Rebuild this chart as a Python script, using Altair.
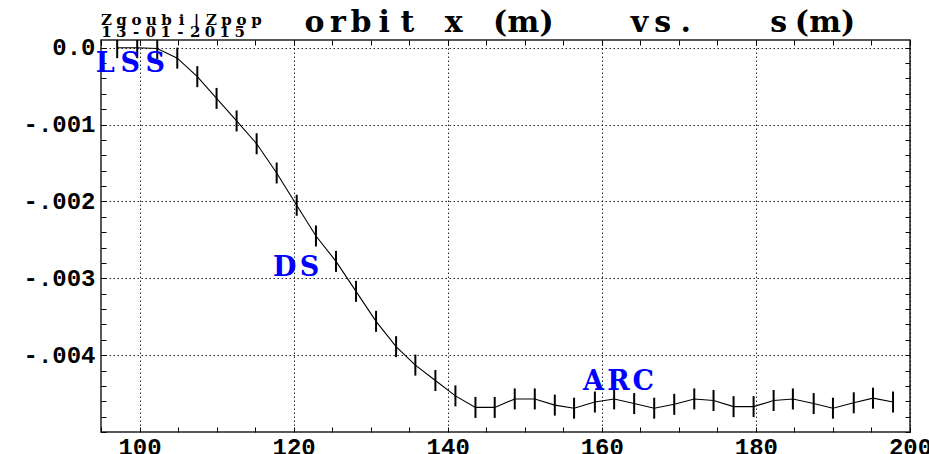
import altair as alt
import pandas as pd

# Closed-orbit horizontal position x (m) against path length s (m)
s_m = [97.1, 99.7, 102.3, 104.9, 107.5, 110.0, 112.6, 115.2, 117.8, 120.4,
       122.9, 125.5, 128.1, 130.7, 133.3, 135.8, 138.4, 141.0, 143.6, 146.1,
       148.7, 151.3, 153.9, 156.4, 159.1, 161.6, 164.2, 166.8, 169.4, 172.0,
       174.5, 177.1, 179.7, 182.3, 184.8, 187.5, 190.0, 192.7, 195.2, 197.8]
x_m = [0.0, 0.0, -0.00001, -0.000136, -0.000377, -0.00066, -0.000953, -0.00125, -0.00163, -0.00205,
       -0.00245, -0.00278, -0.00317, -0.00356, -0.00389, -0.00413, -0.00433, -0.00453, -0.00468, -0.00468,
       -0.00457, -0.00457, -0.00465, -0.00469, -0.00461, -0.00457, -0.00463, -0.00469, -0.00464, -0.00457,
       -0.00459, -0.00467, -0.00467, -0.00459, -0.00457, -0.00463, -0.00469, -0.00462, -0.00456, -0.00461]

# Lattice region labels
region_names = ["LSS", "DS", "ARC"]
region_s = [98.8, 120.45, 162.15]
region_x = [-0.00021, -0.00286, -0.00435]

# Axis ticks
x_major = [100, 120, 140, 160, 180, 200]
y_major = [0.0, -0.001, -0.002, -0.003, -0.004]
x_minor = [95, 100, 105, 110, 115, 120, 125, 130, 135, 140, 145, 150,
           155, 160, 165, 170, 175, 180, 185, 190, 195, 200]
y_minor = [round(-0.005 + 0.0002 * i, 4) for i in range(26)]

S_DOMAIN = [95, 200]
X_DOMAIN = [-0.005, 0.0001]

W, H = 809, 392
PAD = {"left": 101, "top": 40, "right": 19, "bottom": 22}
MONO = "Liberation Mono"
SERIF = "DejaVu Serif"
BLUE = "#0000ff"

orbit = pd.DataFrame({"s": s_m, "x": x_m})

xs = alt.Scale(domain=S_DOMAIN, nice=False, zero=False)
ys = alt.Scale(domain=X_DOMAIN, nice=False, zero=False)

label_style = dict(labelFont=MONO, labelFontWeight="bold", labelFontSize=24,
                   labelColor="black", title=None, domain=False, tickSize=0,
                   grid=True, gridColor="black", gridDash=[1.5, 2.5],
                   gridWidth=1, gridOpacity=0.85, labelOverlap=False)

x_label_axis = alt.Axis(orient="bottom", values=x_major, format="d",
                        labelPadding=3, labelFlush=False, **label_style)
y_label_axis = alt.Axis(orient="left", values=y_major, labelPadding=6,
                        labelExpr="datum.value == 0 ? '0.0' : '-.' + slice(format(-datum.value, '.3f'), 2)",
                        **label_style)


def tick_axis(orient, values):
    # short inward ticks drawn against the frame
    return alt.Axis(orient=orient, values=values, offset=-5, tickSize=5,
                    tickColor="black", tickWidth=1, labels=False,
                    domain=False, grid=False, title=None)


line = alt.Chart(orbit).mark_line(color="black", strokeWidth=1.1).encode(
    x=alt.X("s:Q", scale=xs, axis=x_label_axis),
    y=alt.Y("x:Q", scale=ys, axis=y_label_axis),
)

markers = alt.Chart(orbit).mark_tick(
    orient="vertical", size=21, thickness=2, color="black", opacity=1, clip=True
).encode(
    x=alt.X("s:Q", scale=xs, axis=tick_axis("top", x_minor)),
    y=alt.Y("x:Q", scale=ys, axis=tick_axis("right", y_minor)),
)

frame_ticks = alt.Chart(orbit).mark_line(opacity=0).encode(
    x=alt.X("s:Q", scale=xs, axis=tick_axis("bottom", x_minor)),
    y=alt.Y("x:Q", scale=ys, axis=tick_axis("left", y_minor)),
)

# Region labels, one glyph per row so the letters keep a wide pitch
REGION_PITCH = 25
rows = []
for name, s0, x0 in zip(region_names, region_s, region_x):
    n = len(name)
    for j, ch in enumerate(name):
        rows.append({"s": s0, "x": x0, "ch": ch, "off": j - (n - 1) / 2})
regions = pd.DataFrame(rows)

region_layers = []
for off in sorted(regions["off"].unique()):
    region_layers.append(
        alt.Chart(regions).transform_filter(alt.datum.off == float(off)).mark_text(
            font=SERIF, fontWeight="bold", fontSize=27, color=BLUE,
            align="center", baseline="middle", dx=float(off) * REGION_PITCH
        ).encode(
            x=alt.X("s:Q", scale=xs, axis=None),
            y=alt.Y("x:Q", scale=ys, axis=None),
            text="ch:N",
        )
    )

# Header texts placed in pixels relative to the plot area
headers = [
    ("orbit x (m)   vs.   s(m)", 202.0, -8.0, 23.2, 30),
    ("Zgoubi|Zpop", -2.0, -15.5, 15.0, 15),
    ("13-01-2015", -2.0, -2.7, 14.8, 15),
]
hrows = []
for text, x0, base, pitch, size in headers:
    for i, ch in enumerate(text):
        if ch != " ":
            hrows.append({"ch": ch, "px": x0 + pitch * (i + 0.5), "py": base, "fs": size})
header_df = pd.DataFrame(hrows)

header = alt.Chart(header_df).mark_text(
    font=SERIF, fontWeight="bold", color="black", align="center", baseline="alphabetic"
).encode(
    x=alt.X("px:Q", scale=None, axis=None),
    y=alt.Y("py:Q", scale=None, axis=None),
    size=alt.Size("fs:Q", scale=None, legend=None),
    text="ch:N",
)

chart = alt.layer(line, markers, frame_ticks, *region_layers, header).resolve_axis(
    x="independent", y="independent"
).properties(
    width=W, height=H, padding=PAD, autosize=alt.AutoSizeParams(type="none"),
    background="white",
).configure_view(stroke="#222222", strokeWidth=1.5)

chart.save("out.html", embed_options={"renderer": "svg", "actions": False})
